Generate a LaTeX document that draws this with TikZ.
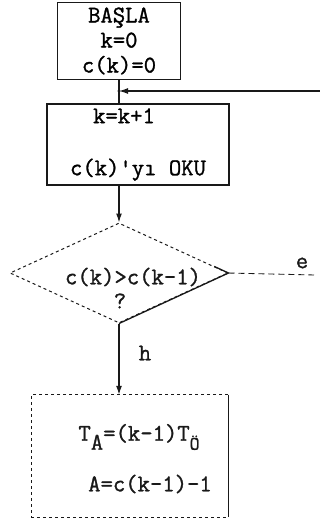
\documentclass[tikz,border=0pt]{standalone}
\usepackage{fontspec}
\newfontfamily\tipfont[FakeBold=1.2]{Latin Modern Mono}
\definecolor{Ink}{RGB}{25,25,25}
\usetikzlibrary{arrows.meta,positioning,calc,shapes.geometric}
\begin{document}
\begin{tikzpicture}[x=1pt,y=-1pt,
  blk/.style={draw=Ink,line width=1.3pt,align=center,inner sep=0pt,
              font=\tipfont\fontsize{24}{25}\selectfont},
  lbl/.style={text=Ink,inner sep=1pt,font=\tipfont\fontsize{24}{25}\selectfont},
  akis/.style={-{Latex[length=9pt,width=6pt]},draw=Ink,line width=1.3pt}]
  \useasboundingbox (0,0) rectangle (320,523);
  % kutular
  \node[blk,minimum width=123pt,minimum height=77pt](BAS) at (119,41)
       {BAŞLA\\k=0\\c(k)=0};
  \node[blk,minimum width=182pt,minimum height=81pt](OKU) at (138,144.5)
       {k=k+1\hspace*{28pt}\\[27pt]c(k)'yı OKU};
  \node[draw=Ink,dashed,line width=1pt,diamond,inner sep=0pt,
        minimum width=218pt,minimum height=100pt](KAR) at (119,273) {};
  \node[lbl](KOS) at (133,277) {c(k)>c(k-1)};
  \node[lbl](SOR) at (120,301) {?};
  \node[inner sep=0pt,minimum width=196pt,minimum height=122pt]
       (HES) at (130,456) {};
  \node[lbl](TA) at (139,437)
       {T\raisebox{-9pt}{A}=(k-1)T\raisebox{-9pt}{\fontsize{19}{19}\selectfont Ö}};
  \node[lbl](AC) at (150,484) {A=c(k-1)-1};
  % baglantilar
  \coordinate (DON) at (320,91);
  \coordinate (BIR) at (BAS.south |- DON);
  \coordinate (E) at (314,275);
  \draw[Ink,line width=1.3pt](BAS.south)--(BAS.south |- OKU.north);
  \draw[akis](DON)--(BIR);
  \fill[Ink](BIR) circle (1.6pt);
  \draw[akis](BAS.south |- OKU.south)--(KAR.north);
  \draw[Ink,line width=1.3pt]($(KAR.east)!0.13!(KAR.north)$)
       --(KAR.east)--(KAR.south);
  \draw[akis](KAR.south)--(KAR.south |- HES.north);
  \node[lbl](H) at (145,353) {h};
  \draw[Ink,line width=0.9pt,dash pattern=on 6pt off 4pt](KAR.east)--(E);
  \node[lbl](EL) at (302,263) {e};
  \draw[Ink,line width=1pt,dashed](HES.north east)-|(HES.south west)
       --(HES.south east);
  \draw[Ink,line width=1.3pt](HES.north east)--(HES.south east);
\end{tikzpicture}
\end{document}
